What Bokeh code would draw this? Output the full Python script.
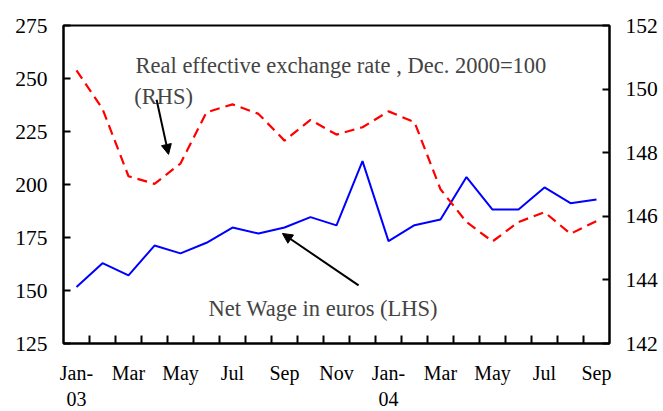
from bokeh.plotting import figure
from bokeh.models import Range1d, LinearAxis, FixedTicker, Label, Arrow, NormalHead
from bokeh.embed import file_html
from bokeh.resources import INLINE

months = ["Jan-\n03", "Feb", "Mar", "Apr", "May", "Jun", "Jul", "Aug", "Sep", "Oct", "Nov", "Dec",
          "Jan-\n04", "Feb", "Mar", "Apr", "May", "Jun", "Jul", "Aug", "Sep"]
net_wage = [151.6, 162.9, 157.1, 171.2, 167.5, 172.5, 179.7, 176.9, 179.7, 184.6, 180.7, 211.0,
            173.3, 180.8, 183.5, 203.5, 188.2, 188.2, 198.6, 191.2, 192.9]
reer = [150.59, 149.38, 147.26, 147.02, 147.66, 149.27, 149.52, 149.22, 148.38, 149.03, 148.57, 148.8,
        149.30, 148.96, 146.85, 145.82, 145.21, 145.82, 146.13, 145.45, 145.85]
lhs_ticks = [125, 150, 175, 200, 225, 250, 275]
rhs_ticks = [142, 144, 146, 148, 150, 152]

x = list(range(len(months)))
FONT = "'Liberation Serif', 'Times New Roman', serif"

p = figure(frame_width=546, frame_height=318, output_backend="svg", toolbar_location=None,
           x_range=Range1d(-0.5, len(months) - 0.5), y_range=Range1d(125, 275),
           min_border_left=63, min_border_right=51, min_border_top=25, min_border_bottom=40)
p.extra_y_ranges = {"rhs": Range1d(142, 152)}

p.line(x, net_wage, line_color="#0000ff", line_width=2)
p.line(x, reer, y_range_name="rhs", line_color="#ff0000", line_width=2.2, line_dash="10 6")

p.grid.visible = False
p.outline_line_color = "black"
p.outline_line_width = 2
p.background_fill_color = "white"
p.border_fill_color = "white"

xa = p.xaxis[0]
xa.ticker = FixedTicker(ticks=x[::2], minor_ticks=[i + 0.5 for i in x[:-1]])
xa.major_label_overrides = {i: months[i] for i in x[::2]}
xa.major_tick_in = 0
xa.major_tick_out = 0
xa.minor_tick_in = 8
xa.minor_tick_out = 0
xa.minor_tick_line_width = 2
xa.axis_line_width = 2

ya = p.yaxis[0]
ya.ticker = FixedTicker(ticks=lhs_ticks)
ya.major_tick_in = 7
ya.major_tick_out = 0
ya.minor_tick_line_color = None
ya.major_tick_line_width = 2
ya.axis_line_width = 2
ya.major_label_standoff = 16

ra = LinearAxis(y_range_name="rhs", ticker=FixedTicker(ticks=rhs_ticks))
ra.major_tick_in = 7
ra.major_tick_out = 0
ra.minor_tick_line_color = None
ra.major_tick_line_width = 2
ra.axis_line_width = 2
ra.major_label_standoff = 16
p.add_layout(ra, "right")

for ax in [xa, ya, ra]:
    ax.major_label_text_font = FONT
    ax.major_label_text_font_size = "21.5px"
    ax.major_label_text_color = "black"
    ax.axis_line_color = "black"
    ax.major_tick_line_color = "black"
xa.major_label_text_font_size = "20px"
xa.major_label_standoff = 18

p.add_layout(Label(x=2.27, y=256.1, text="Real  effective exchange rate , Dec. 2000=100",
                   text_font=FONT, text_font_size="22.5px", text_baseline="alphabetic"))
p.add_layout(Label(x=2.22, y=241.7, text="(RHS)",
                   text_font=FONT, text_font_size="22.5px", text_baseline="alphabetic"))
p.add_layout(Label(x=5.08, y=141.4, text="Net Wage in euros (LHS)",
                   text_font=FONT, text_font_size="22.5px", text_baseline="alphabetic"))

p.add_layout(Arrow(x_start=3.08, y_start=240.0, x_end=3.54, y_end=214.2, line_width=2,
                   end=NormalHead(size=10, fill_color="black", line_color="black")))
p.add_layout(Arrow(x_start=10.85, y_start=152.4, x_end=7.92, y_end=176.9, line_width=2,
                   end=NormalHead(size=10, fill_color="black", line_color="black")))

open("out.html", "w").write(file_html(p, INLINE))
